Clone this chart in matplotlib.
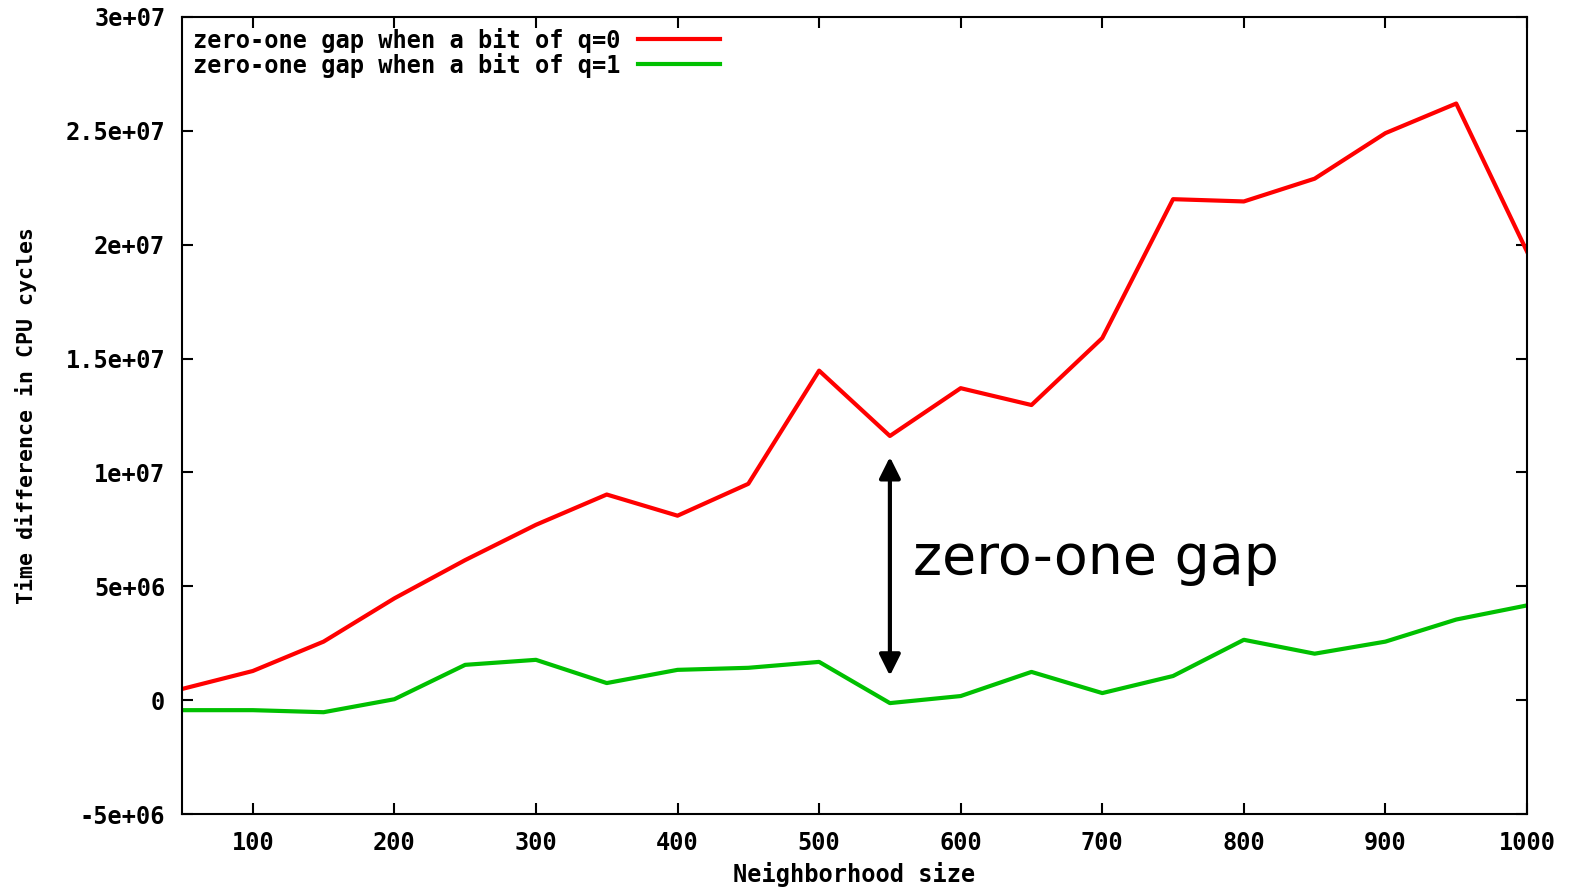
import matplotlib
matplotlib.use('Agg')
import matplotlib.pyplot as plt

# Neighborhood sizes and measured gaps (CPU cycles)
sizes = [50, 100, 150, 200, 250, 300, 350, 400, 450, 500,
         550, 600, 650, 700, 750, 800, 850, 900, 950, 1000]
gap_q0 = [0.49e6, 1.28e6, 2.57e6, 4.47e6, 6.15e6, 7.7e6, 9.03e6, 8.1e6, 9.5e6, 14.47e6,
          11.6e6, 13.7e6, 12.96e6, 15.9e6, 22.0e6, 21.9e6, 22.9e6, 24.9e6, 26.2e6, 19.7e6]
gap_q1 = [-0.44e6, -0.44e6, -0.53e6, 0.04e6, 1.55e6, 1.77e6, 0.75e6, 1.33e6, 1.42e6, 1.68e6,
          -0.13e6, 0.18e6, 1.24e6, 0.31e6, 1.06e6, 2.65e6, 2.04e6, 2.57e6, 3.54e6, 4.16e6]

xticks = [100, 200, 300, 400, 500, 600, 700, 800, 900, 1000]
yticks = [-5e6, 0, 5e6, 1e7, 1.5e7, 2e7, 2.5e7, 3e7]
ytick_labels = ['-5e+06', '0', '5e+06', '1e+07', '1.5e+07', '2e+07', '2.5e+07', '3e+07']

mono = {'family': 'DejaVu Sans Mono', 'weight': 'bold', 'size': 17}

fig = plt.figure(figsize=(15.79, 8.88), dpi=100)
ax = fig.add_axes([182 / 1579, 1 - 814 / 888, (1527 - 182) / 1579, (814 - 17) / 888])

ax.plot(sizes, gap_q0, color='#ff0000', lw=3, label='zero-one gap when a bit of q=0')
ax.plot(sizes, gap_q1, color='#00c000', lw=3, label='zero-one gap when a bit of q=1')

ax.set_xlim(50, 1000)
ax.set_ylim(-5e6, 3e7)
ax.set_xticks(xticks)
ax.set_xticklabels([str(t) for t in xticks], fontdict=mono)
ax.set_yticks(yticks)
ax.set_yticklabels(ytick_labels, fontdict=mono)
ax.tick_params(direction='in', length=8, width=1.5, top=True, right=True, pad=12)

for s in ax.spines.values():
    s.set_linewidth(1.5)

ax.set_xlabel('Neighborhood size', fontdict=mono)
ax.set_ylabel('Time difference in CPU cycles', family='DejaVu Sans Mono', weight='bold', size=15.5)
ax.xaxis.set_label_coords(0.5, -0.06)
ax.yaxis.set_label_coords(-0.108, 0.5)

leg = ax.legend(loc='upper left', frameon=False, markerfirst=False,
                prop=mono, handlelength=3.5, labelspacing=0.0,
                borderaxespad=0.15, handletextpad=0.75, borderpad=0.3)

# annotation arrow showing the gap
ax.annotate('', xy=(550, 1.08e7), xytext=(550, 0.95e6),
            arrowprops=dict(arrowstyle='<|-|>', color='black', lw=3, mutation_scale=32))
ax.text(566, 6.2e6, 'zero-one gap', fontsize=40, family='DejaVu Sans', va='center', ha='left')

fig.savefig('out.png', dpi=100)
